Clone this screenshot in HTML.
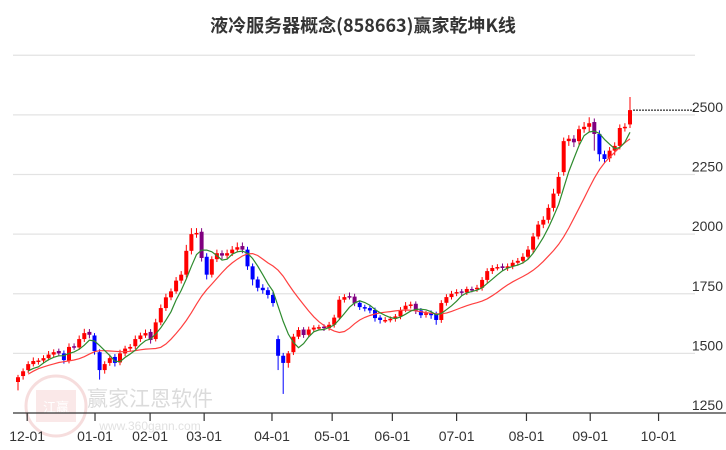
<!DOCTYPE html>
<html><head><meta charset="utf-8">
<style>
html,body{margin:0;padding:0;background:#fff;}
svg{display:block;font-family:"Liberation Sans","Noto Sans CJK SC",sans-serif;}
</style></head>
<body>
<svg id="chart" width="726" height="450" viewBox="0 0 726 450" xmlns="http://www.w3.org/2000/svg">
<text x="363" y="32" text-anchor="middle" font-size="18" font-weight="bold" fill="#333" font-family="'Noto Sans CJK SC',sans-serif">液冷服务器概念(858663)赢家乾坤K线</text>
<g opacity="0.35">
<circle cx="56" cy="406" r="30" fill="none" stroke="#e8a0a0" stroke-width="3"/>
<rect x="36" y="390" width="40" height="32" fill="#f2c0c0"/>
<text x="56" y="412" text-anchor="middle" font-size="13" fill="#fff" font-family="'Noto Sans CJK SC',sans-serif">江赢</text>
<text x="150" y="406" text-anchor="middle" font-size="21" fill="#999" font-family="'Noto Sans CJK SC',sans-serif">赢家江恩软件</text>
<text x="150" y="430" text-anchor="middle" font-size="12" fill="#aaa">www.360gann.com</text>
</g>
<g id="grid"></g>
<g id="yaxis"></g>
<g id="xaxis"></g>
<g id="candles"></g>
<g id="lines"></g>
</svg>
<script>
const dateLabels=["12-01","01-01","02-01","03-01","04-01","05-01","06-01","07-01","08-01","09-01","10-01"];
const dateIndex=[1.8,15.1,25.9,36.5,49.8,61.6,73.4,86,99.7,112.2,125.6];
const yTicks=[1250,1500,1750,2000,2250,2500];
const gridVals=[1500,1750,2000,2250,2500,2750];
const closes=[1400,1425,1455,1468,1470,1480,1495,1505,1500,1472,
1527,1527,1560,1585,1578,1510,1430,1455,1480,1460,
1500,1520,1527,1560,1575,1585,1556,1630,1690,1735,
1760,1805,1830,1930,2000,2005,1900,1830,1895,1920,
1910,1920,1935,1945,1935,1865,1810,1775,1765,1745,
1711,1490,1460,1500,1570,1598,1577,1600,1608,1610,
1606,1620,1650,1725,1736,1738,1710,1694,1688,1680,
1648,1640,1640,1645,1655,1682,1700,1705,1680,1660,
1668,1660,1640,1711,1736,1750,1757,1755,1770,1768,
1775,1808,1845,1858,1862,1858,1865,1880,1888,1905,
1935,1990,2040,2060,2110,2170,2240,2390,2400,2385,
2440,2450,2465,2420,2335,2315,2350,2370,2445,2450,2520];
const opens=[1380,1405,1430,1455,1465,1470,1480,1495,1510,1500,
1470,1530,1525,1560,1590,1575,1505,1430,1460,1485,
1462,1500,1520,1530,1560,1575,1590,1560,1630,1690,
1735,1760,1805,1830,1930,2000,2010,1905,1830,1895,
1920,1910,1920,1935,1950,1935,1865,1810,1775,1765,
1745,1560,1490,1460,1505,1570,1600,1578,1600,1610,
1612,1606,1620,1650,1725,1740,1738,1712,1694,1690,
1682,1650,1640,1642,1645,1655,1685,1700,1708,1680,
1662,1670,1665,1640,1712,1736,1752,1760,1755,1770,
1770,1775,1808,1845,1860,1865,1858,1865,1880,1888,
1905,1935,1990,2040,2060,2110,2170,2260,2390,2400,
2390,2440,2450,2470,2420,2335,2318,2350,2370,2445,2460];
const wickHi=[10,12,12,15,10,12,15,12,10,12,15,12,15,18,12,10,12,12,15,12,
15,12,12,15,12,15,12,15,15,15,12,15,15,25,25,20,15,15,12,15,
12,15,15,20,15,12,12,12,15,12,12,15,12,10,12,12,10,12,10,10,
10,12,12,15,12,15,12,10,10,10,10,10,12,10,10,12,15,12,10,10,
10,10,10,12,12,12,12,10,10,10,12,12,12,12,12,12,12,12,12,15,
15,15,15,15,15,20,20,15,15,15,15,20,25,15,15,15,15,15,15,15,55];
const wickLo=[35,15,12,10,12,12,10,12,12,15,12,12,10,12,15,15,40,15,12,15,
12,12,10,12,12,10,15,10,12,12,12,10,12,12,15,15,15,20,12,12,
15,12,12,12,15,15,25,15,15,15,15,60,130,20,12,10,12,10,10,10,
12,10,12,10,12,12,12,12,12,12,15,15,12,12,12,12,12,12,15,12,
12,15,20,12,12,10,12,12,10,12,12,12,12,12,12,12,12,12,12,12,
12,15,12,15,15,15,10,15,20,20,15,15,20,70,30,15,15,20,15,15,15];

const X0=18, STEP=5.1, Y0=413, PX=0.2385;
const xs=i=>X0+i*STEP;
const ys=v=>Y0-(v-1250)*PX;
const NS="http://www.w3.org/2000/svg";
function mk(tag,attrs,parent){const e=document.createElementNS(NS,tag);for(const k in attrs)e.setAttribute(k,attrs[k]);parent.appendChild(e);return e;}
const grid=document.getElementById('grid'),yax=document.getElementById('yaxis'),xax=document.getElementById('xaxis'),cg=document.getElementById('candles'),lg=document.getElementById('lines');

gridVals.forEach(v=>{
 const l=mk('line',{x1:13,x2:695,y1:ys(v),y2:ys(v),stroke:'#e3e3e3','stroke-width':1.2},grid);
 
 
});
yTicks.forEach(v=>{
 const t=mk('text',{x:723,y:ys(v)-3,'text-anchor':'end','font-size':14,fill:'#333'},yax);
 t.textContent=v;
 
 
});
const ax=mk('line',{x1:13,x2:726,y1:Y0,y2:Y0,stroke:'#333','stroke-width':1.3},xax);


dateLabels.forEach((d,k)=>{
 const x=xs(dateIndex[k]);
 const tk=mk('line',{x1:x,x2:x,y1:Y0,y2:Y0+8,stroke:'#333','stroke-width':1.2},xax);
 
 
 const t=mk('text',{x:x,y:441,'text-anchor':'middle','font-size':14,fill:'#333'},xax);
 t.textContent=d;
 
 
});

function ma(n){return closes.map((c,i)=>{const s=Math.max(0,i-n+1);let t=0;for(let j=s;j<=i;j++)t+=closes[j];return t/(i-s+1);});}
const maS=ma(5), maL0=ma(13);
const maL=maL0.map((v,i)=>{const s=Math.max(0,i-2);let t=0;for(let j=s;j<=i;j++)t+=maL0[j];return t/(i-s+1);});

closes.forEach((c,i)=>{
 const o=opens[i];
 let col=c>=o?'#ff0000':(c<maS[Math.max(0,i-1)]-15?'#0000ff':'#800080');
 const hi=Math.max(o,c)+wickHi[i], lo=Math.min(o,c)-wickLo[i];
 const x=xs(i);
 const w=mk('line',{x1:x,x2:x,y1:ys(hi),y2:ys(lo),stroke:col,'stroke-width':1},cg);
 
 
 const top=ys(Math.max(o,c)), bh=Math.max(1.5,Math.abs(ys(o)-ys(c)));
 const b=mk('rect',{x:x-2,y:top,width:4,height:bh,fill:col},cg);
 
 
});

function path(arr,start){return arr.map((v,i)=>i<start?null:(i===start?'M':'L')+xs(i).toFixed(1)+','+ys(v).toFixed(1)).filter(Boolean).join(' ');}
const pl=mk('path',{d:path(maL,2),fill:'none',stroke:'#ff4040','stroke-width':1.2},lg);


const ps=mk('path',{d:path(maS,2),fill:'none',stroke:'#2e8b2e','stroke-width':1.2},lg);


const last=closes[closes.length-1];
const dl=mk('line',{x1:xs(closes.length-1)+3,x2:695,y1:ys(last),y2:ys(last),stroke:'#000','stroke-width':1,'stroke-dasharray':'2,1'},lg);


</script>
</body></html>
